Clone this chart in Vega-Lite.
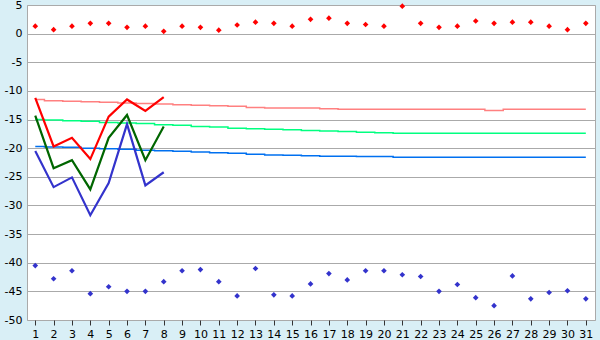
{
  "$schema": "https://vega.github.io/schema/vega-lite/v6.json",
  "width": 568,
  "height": 315,
  "autosize": {"type": "none"},
  "padding": {"left": 27, "top": 5, "right": 5, "bottom": 20},
  "background": "#d9eff6",
  "view": {"fill": "#ffffff", "stroke": "#aaaaaa", "strokeWidth": 1},
  "config": {
    "font": "DejaVu Sans",
    "axis": {"labelFont": "DejaVu Sans", "labelFontSize": 11, "labelColor": "#000000", "domain": false, "title": null}
  },
  "datasets": {
    "norms": [
      {"day":1,"s":"nmax","t":-11.5},{"day":2,"s":"nmax","t":-11.7},{"day":3,"s":"nmax","t":-11.8},{"day":4,"s":"nmax","t":-11.9},{"day":5,"s":"nmax","t":-12.0},{"day":6,"s":"nmax","t":-12.1},{"day":7,"s":"nmax","t":-12.2},{"day":8,"s":"nmax","t":-12.3},{"day":9,"s":"nmax","t":-12.4},{"day":10,"s":"nmax","t":-12.5},{"day":11,"s":"nmax","t":-12.6},{"day":12,"s":"nmax","t":-12.7},{"day":13,"s":"nmax","t":-12.9},{"day":14,"s":"nmax","t":-13.0},{"day":15,"s":"nmax","t":-13.0},{"day":16,"s":"nmax","t":-13.0},{"day":17,"s":"nmax","t":-13.1},{"day":18,"s":"nmax","t":-13.2},{"day":19,"s":"nmax","t":-13.2},{"day":20,"s":"nmax","t":-13.2},{"day":21,"s":"nmax","t":-13.2},{"day":22,"s":"nmax","t":-13.2},{"day":23,"s":"nmax","t":-13.2},{"day":24,"s":"nmax","t":-13.2},{"day":25,"s":"nmax","t":-13.2},{"day":26,"s":"nmax","t":-13.4},{"day":27,"s":"nmax","t":-13.2},{"day":28,"s":"nmax","t":-13.2},{"day":29,"s":"nmax","t":-13.2},{"day":30,"s":"nmax","t":-13.2},{"day":31,"s":"nmax","t":-13.2},
      {"day":1,"s":"nmean","t":-15.0},{"day":2,"s":"nmean","t":-15.1},{"day":3,"s":"nmean","t":-15.2},{"day":4,"s":"nmean","t":-15.3},{"day":5,"s":"nmean","t":-15.5},{"day":6,"s":"nmean","t":-15.6},{"day":7,"s":"nmean","t":-15.7},{"day":8,"s":"nmean","t":-15.9},{"day":9,"s":"nmean","t":-16.0},{"day":10,"s":"nmean","t":-16.2},{"day":11,"s":"nmean","t":-16.3},{"day":12,"s":"nmean","t":-16.5},{"day":13,"s":"nmean","t":-16.6},{"day":14,"s":"nmean","t":-16.7},{"day":15,"s":"nmean","t":-16.8},{"day":16,"s":"nmean","t":-16.9},{"day":17,"s":"nmean","t":-17.0},{"day":18,"s":"nmean","t":-17.1},{"day":19,"s":"nmean","t":-17.2},{"day":20,"s":"nmean","t":-17.3},{"day":21,"s":"nmean","t":-17.4},{"day":22,"s":"nmean","t":-17.4},{"day":23,"s":"nmean","t":-17.4},{"day":24,"s":"nmean","t":-17.4},{"day":25,"s":"nmean","t":-17.4},{"day":26,"s":"nmean","t":-17.4},{"day":27,"s":"nmean","t":-17.4},{"day":28,"s":"nmean","t":-17.4},{"day":29,"s":"nmean","t":-17.4},{"day":30,"s":"nmean","t":-17.4},{"day":31,"s":"nmean","t":-17.4},
      {"day":1,"s":"nmin","t":-19.7},{"day":2,"s":"nmin","t":-19.8},{"day":3,"s":"nmin","t":-19.85},{"day":4,"s":"nmin","t":-20.0},{"day":5,"s":"nmin","t":-20.1},{"day":6,"s":"nmin","t":-20.2},{"day":7,"s":"nmin","t":-20.35},{"day":8,"s":"nmin","t":-20.45},{"day":9,"s":"nmin","t":-20.55},{"day":10,"s":"nmin","t":-20.65},{"day":11,"s":"nmin","t":-20.8},{"day":12,"s":"nmin","t":-20.9},{"day":13,"s":"nmin","t":-21.05},{"day":14,"s":"nmin","t":-21.2},{"day":15,"s":"nmin","t":-21.25},{"day":16,"s":"nmin","t":-21.3},{"day":17,"s":"nmin","t":-21.4},{"day":18,"s":"nmin","t":-21.4},{"day":19,"s":"nmin","t":-21.45},{"day":20,"s":"nmin","t":-21.45},{"day":21,"s":"nmin","t":-21.6},{"day":22,"s":"nmin","t":-21.6},{"day":23,"s":"nmin","t":-21.6},{"day":24,"s":"nmin","t":-21.6},{"day":25,"s":"nmin","t":-21.6},{"day":26,"s":"nmin","t":-21.6},{"day":27,"s":"nmin","t":-21.6},{"day":28,"s":"nmin","t":-21.6},{"day":29,"s":"nmin","t":-21.6},{"day":30,"s":"nmin","t":-21.6},{"day":31,"s":"nmin","t":-21.6}
    ],
    "obs": [
      {"day":1,"s":"max","t":-11.2},{"day":2,"s":"max","t":-19.7},{"day":3,"s":"max","t":-18.2},{"day":4,"s":"max","t":-21.9},{"day":5,"s":"max","t":-14.5},{"day":6,"s":"max","t":-11.5},{"day":7,"s":"max","t":-13.5},{"day":8,"s":"max","t":-11.1},
      {"day":1,"s":"mean","t":-14.3},{"day":2,"s":"mean","t":-23.5},{"day":3,"s":"mean","t":-22.1},{"day":4,"s":"mean","t":-27.2},{"day":5,"s":"mean","t":-18.2},{"day":6,"s":"mean","t":-14.2},{"day":7,"s":"mean","t":-22.1},{"day":8,"s":"mean","t":-16.2},
      {"day":1,"s":"min","t":-20.5},{"day":2,"s":"min","t":-26.8},{"day":3,"s":"min","t":-25.1},{"day":4,"s":"min","t":-31.7},{"day":5,"s":"min","t":-26.1},{"day":6,"s":"min","t":-15.8},{"day":7,"s":"min","t":-26.5},{"day":8,"s":"min","t":-24.2}
    ],
    "records": [
      {"day":1,"s":"hi","t":1.3},{"day":2,"s":"hi","t":0.7},{"day":3,"s":"hi","t":1.3},{"day":4,"s":"hi","t":1.8},{"day":5,"s":"hi","t":1.8},{"day":6,"s":"hi","t":1.1},{"day":7,"s":"hi","t":1.3},{"day":8,"s":"hi","t":0.4},{"day":9,"s":"hi","t":1.3},{"day":10,"s":"hi","t":1.1},{"day":11,"s":"hi","t":0.6},{"day":12,"s":"hi","t":1.5},{"day":13,"s":"hi","t":2.0},{"day":14,"s":"hi","t":1.8},{"day":15,"s":"hi","t":1.3},{"day":16,"s":"hi","t":2.5},{"day":17,"s":"hi","t":2.7},{"day":18,"s":"hi","t":1.8},{"day":19,"s":"hi","t":1.6},{"day":20,"s":"hi","t":1.3},{"day":21,"s":"hi","t":4.8},{"day":22,"s":"hi","t":1.8},{"day":23,"s":"hi","t":1.1},{"day":24,"s":"hi","t":1.3},{"day":25,"s":"hi","t":2.2},{"day":26,"s":"hi","t":1.8},{"day":27,"s":"hi","t":2.0},{"day":28,"s":"hi","t":2.0},{"day":29,"s":"hi","t":1.3},{"day":30,"s":"hi","t":0.7},{"day":31,"s":"hi","t":1.8},
      {"day":1,"s":"lo","t":-40.5},{"day":2,"s":"lo","t":-42.8},{"day":3,"s":"lo","t":-41.4},{"day":4,"s":"lo","t":-45.4},{"day":5,"s":"lo","t":-44.2},{"day":6,"s":"lo","t":-45.0},{"day":7,"s":"lo","t":-45.0},{"day":8,"s":"lo","t":-43.3},{"day":9,"s":"lo","t":-41.4},{"day":10,"s":"lo","t":-41.2},{"day":11,"s":"lo","t":-43.3},{"day":12,"s":"lo","t":-45.8},{"day":13,"s":"lo","t":-41.0},{"day":14,"s":"lo","t":-45.6},{"day":15,"s":"lo","t":-45.8},{"day":16,"s":"lo","t":-43.7},{"day":17,"s":"lo","t":-41.9},{"day":18,"s":"lo","t":-43.0},{"day":19,"s":"lo","t":-41.4},{"day":20,"s":"lo","t":-41.4},{"day":21,"s":"lo","t":-42.1},{"day":22,"s":"lo","t":-42.4},{"day":23,"s":"lo","t":-45.0},{"day":24,"s":"lo","t":-43.8},{"day":25,"s":"lo","t":-46.1},{"day":26,"s":"lo","t":-47.5},{"day":27,"s":"lo","t":-42.3},{"day":28,"s":"lo","t":-46.3},{"day":29,"s":"lo","t":-45.2},{"day":30,"s":"lo","t":-44.9},{"day":31,"s":"lo","t":-46.3}
    ]
  },
  "encoding": {
    "x": {
      "field": "day", "type": "quantitative",
      "scale": {"domain": [0.55, 31.5], "nice": false, "zero": false},
      "axis": {"values": [1,2,3,4,5,6,7,8,9,10,11,12,13,14,15,16,17,18,19,20,21,22,23,24,25,26,27,28,29,30,31], "grid": false, "ticks": true, "tickSize": 5, "tickColor": "#333333", "labelPadding": 3, "labelFlush": false, "labelOverlap": false}
    },
    "y": {
      "field": "t", "type": "quantitative",
      "scale": {"domain": [-50, 5], "nice": false, "zero": false},
      "axis": {"values": [-50,-45,-40,-35,-30,-25,-20,-15,-10,-5,0,5], "grid": true, "gridColor": "#aaaaaa", "gridOpacity": 1, "gridWidth": 1, "ticks": false, "labelPadding": 5, "labelExpr": "'' + datum.value", "labelFlush": false, "labelOverlap": false}
    },
    "color": {
      "field": "s", "type": "nominal", "legend": null,
      "scale": {
        "domain": ["max","mean","min","nmax","nmean","nmin","hi","lo"],
        "range": ["#ff0000","#006600","#3333cc","#ff8080","#00ff80","#0070f0","#ff0000","#3333cc"]
      }
    }
  },
  "layer": [
    {"data": {"name": "norms"}, "mark": {"type": "line", "interpolate": "step", "strokeWidth": 1.5}},
    {"data": {"name": "obs"}, "mark": {"type": "line", "strokeWidth": 2.2}},
    {"data": {"name": "records"}, "mark": {"type": "point", "shape": "diamond", "filled": true, "size": 32, "opacity": 1}}
  ]
}
